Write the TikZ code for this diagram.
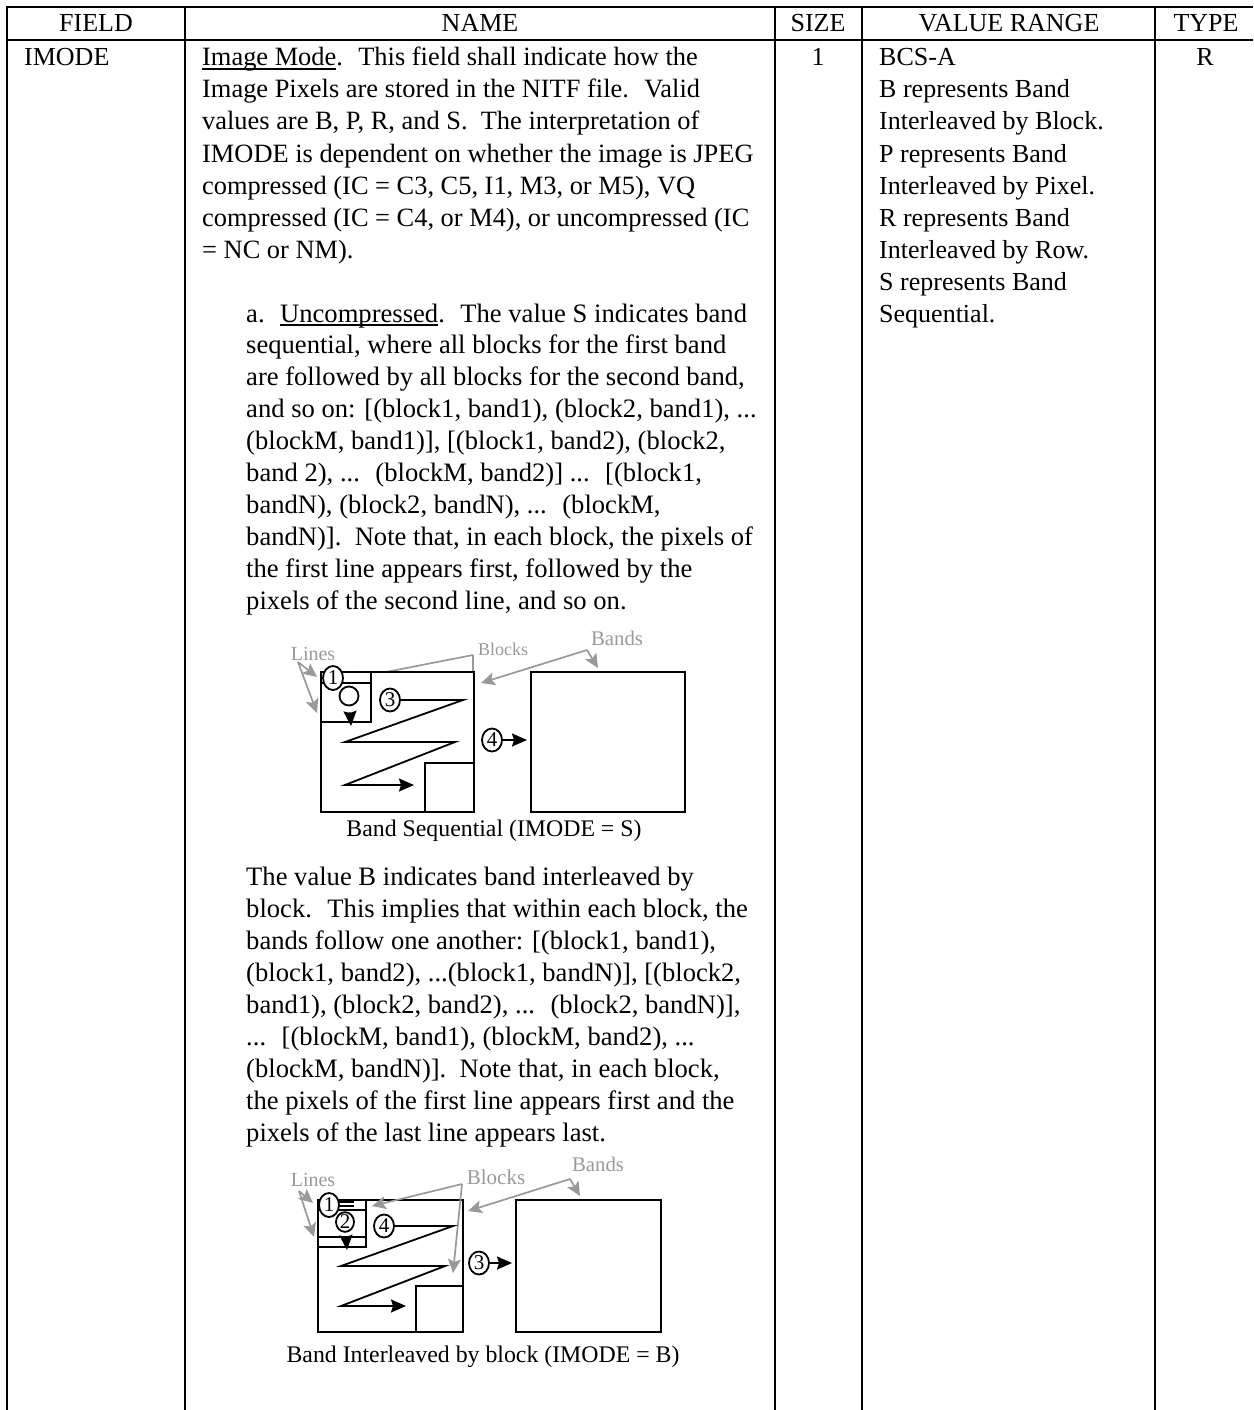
\documentclass[tikz,border=0pt]{standalone}
\usepackage{fontspec}
\setmainfont{Liberation Serif}
\usetikzlibrary{arrows.meta}
\usetikzlibrary{shapes.geometric}

\def\tdots{.{}.{}.}
\newcommand{\ulined}[1]{\setbox0\hbox{#1}\rlap{\rule[-4pt]{\wd0}{1.6pt}}#1}
\definecolor{tagcolor}{gray}{0.6}

\tikzset{
	rule/.style={line width=1.9pt},
	box/.style={draw, line width=1.8pt, fill=white},
	txt/.style={anchor=base west, inner sep=0pt, font=\fontsize{26}{30}\selectfont},
	body/.style={txt, font=\fontsize{26.6}{30}\selectfont},
	head/.style={anchor=base, inner sep=0pt, font=\fontsize{26}{30}\selectfont},
	caption/.style={anchor=base, inner sep=0pt, font=\fontsize{23.8}{24}\selectfont},
	tag/.style={anchor=base, inner sep=0pt, text=tagcolor},
	num/.style={ellipse, draw, fill=white, line width=1.8pt, inner sep=0pt, minimum width=20pt, minimum height=23pt, font=\fontsize{21}{20}\selectfont},
	flow/.style={line width=1.8pt, -{Stealth[length=15pt,width=13pt,inset=2pt]}},
	pointer/.style={draw=tagcolor, line width=1.7pt, -{Stealth[length=14pt,width=13pt,inset=3pt]}}
}

\begin{document}
\begin{tikzpicture}[x=1pt, y=-1pt]
  \useasboundingbox (0,0) rectangle (1253,1410);

  % table rules
  \draw [rule] (7,1410) -- (7,7) -- (1253,7);
  \draw [rule] (7,40) -- (1253,40);
  \foreach \x in {185,775,862,1155}
    \draw [rule] (\x,7) -- (\x,1410);

  % header row
  \node (field_head) [head] at (96,32) {FIELD};
  \node (name_head) [head] at (480,32) {NAME};
  \node (size_head) [head] at (818,32) {SIZE};
  \node (range_head) [head] at (1009,32) {VALUE RANGE};
  \node (type_head) [head] at (1206,32) {TYPE};

  % short cells
  \node (field_val) [txt] at (24,66) {IMODE};
  \node (size_val) [head] at (818,66) {1};
  \node (type_val) [head] at (1205,66) {R};
  \foreach \txt [count=\i] in {BCS-A, B represents Band, Interleaved by Block., P represents Band, Interleaved by Pixel., R represents Band, Interleaved by Row., S represents Band, Sequential.}
    \node (range_\i) [txt] at (879,{66+32*(\i-1)}) {\txt};

  % name column
  \foreach \txt [count=\i] in {
    {\ulined{Image Mode}.~ This field shall indicate how the},
    {Image Pixels are stored in the NITF file.~ Valid},
    {values are B, P, R, and S.~ The interpretation of},
    {IMODE is dependent on whether the image is JPEG},
    {compressed (IC = C3, C5, I1, M3, or M5), VQ},
    {compressed (IC = C4, or M4), or uncompressed (IC},
    {= NC or NM).}}
    \node (intro_\i) [body, font=\fontsize{26.4}{30}\selectfont] at (202,{66+32*(\i-1)}) {\txt};
  \foreach \txt [count=\i] in {
    {a.~ \ulined{Uncompressed}.~ The value S indicates band},
    {sequential, where all blocks for the first band},
    {are followed by all blocks for the second band,},
    {and so on: [(block1, band1), (block2, band1), \tdots},
    {(blockM, band1)], [(block1, band2), (block2,},
    {band 2), \tdots~ (blockM, band2)] \tdots~ [(block1,},
    {bandN), (block2, bandN), \tdots~ (blockM,},
    {bandN)].~ Note that, in each block, the pixels of},
    {the first line appears first, followed by the},
    {pixels of the second line, and so on.}}
    \node (seq_\i) [body] at (246,{322+31.9*(\i-1)}) {\txt};
  \foreach \txt [count=\i] in {
    {The value B indicates band interleaved by},
    {block.~ This implies that within each block, the},
    {bands follow one another: [(block1, band1),},
    {(block1, band2), \tdots(block1, bandN)], [(block2,},
    {band1), (block2, band2), \tdots~ (block2, bandN)],},
    {\tdots~ [(blockM, band1), (blockM, band2), \tdots},
    {(blockM, bandN)].~ Note that, in each block,},
    {the pixels of the first line appears first and the},
    {pixels of the last line appears last.}}
    \node (ilv_\i) [body] at (246,{885+32*(\i-1)}) {\txt};

  % band sequential sketch
  \coordinate (lines_a) at (298,662);
  \coordinate (blocks_a) at (473,655);
  \coordinate (bands_a) at (587,650);
  \draw [pointer] (lines_a) -- (317,677);
  \draw [pointer] (lines_a) -- (317,713);
  \draw [pointer] (blocks_a) -- (345,680);
  \draw [pointer, -] (blocks_a) -- (473,680);
  \draw [pointer] (bands_a) -- (481,683);
  \draw [pointer] (bands_a) -- (598,668);
  \draw [box] (321,672) rectangle (474,812);
  \draw [box] (531,672) rectangle (685,812);
  \draw [box] (321,672) rectangle (371,722);
  \draw [box] (321,672) rectangle (371,683);
  \draw [box] (425,763) rectangle (474,812);
  \node (lines_tag_a) [tag, font=\fontsize{20}{20}\selectfont] at (313,660) {Lines};
  \node (blocks_tag_a) [tag, font=\fontsize{18}{20}\selectfont] at (503,655) {Blocks};
  \node (bands_tag_a) [tag, font=\fontsize{20.8}{20}\selectfont] at (617,645) {Bands};
  \node (one_a) [num, minimum height=24pt] at (333,678) {1};
  \node (two_a) [num, minimum width=19pt, minimum height=19pt] at (349,696) {};
  \node (three_a) [num] at (390,700) {3};
  \node (four_a) [num] at (492,740) {4};
  \coordinate (zig_a1) at (463,700);
  \coordinate (zig_a2) at (345,742);
  \coordinate (zig_a3) at (455,742);
  \coordinate (zig_a4) at (345,785);
  \coordinate (zig_a5) at (414,785);
  \coordinate (down_a) at (351,726);
  \coordinate (right_a) at (527,740);
  \draw [flow] (three_a) -- (zig_a1) -- (zig_a2) -- (zig_a3) -- (zig_a4) -- (zig_a5);
  \draw [flow, shorten <=6pt] (two_a) -- (down_a);
  \draw [flow] (four_a) -- (right_a);
  \node (cap_a) [caption] at (494,836) {Band Sequential (IMODE = S)};

  % band interleaved sketch
  \coordinate (lines_b) at (299,1191);
  \coordinate (blocks_b) at (462,1184);
  \coordinate (bands_b) at (570,1179);
  \draw [box] (318,1200) rectangle (463,1332);
  \draw [box] (516,1200) rectangle (661,1332);
  \draw [box] (318,1200) rectangle (366,1247);
  \draw [box] (318,1200) rectangle (366,1210);
  \draw [box] (318,1237) rectangle (366,1247);
  \draw [box] (416,1286) rectangle (463,1332);
  \draw [pointer] (lines_b) -- (313,1203);
  \draw [pointer] (lines_b) -- (314,1237);
  \draw [pointer] (blocks_b) -- (372,1206);
  \draw [pointer] (blocks_b) -- (453,1273);
  \draw [pointer] (bands_b) -- (468,1211);
  \draw [pointer] (bands_b) -- (580,1196);
  \node (lines_tag_b) [tag, font=\fontsize{20}{20}\selectfont] at (313,1186) {Lines};
  \node (blocks_tag_b) [tag, font=\fontsize{21}{20}\selectfont] at (496,1184) {Blocks};
  \node (bands_tag_b) [tag, font=\fontsize{20.8}{20}\selectfont] at (598,1171) {Bands};
  \draw [line width=1.2pt] (330,1202) -- (354,1202);
  \draw [line width=1.2pt] (330,1206) -- (354,1206);
  \node (one_b) [num, minimum height=24pt] at (329,1205) {1};
  \node (two_b) [num, minimum width=18pt, minimum height=18pt] at (345,1222) {2};
  \node (three_b) [num] at (479,1263) {3};
  \node (four_b) [num] at (384,1226) {4};
  \coordinate (zig_b1) at (453,1226);
  \coordinate (zig_b2) at (341,1266);
  \coordinate (zig_b3) at (445,1266);
  \coordinate (zig_b4) at (341,1306);
  \coordinate (zig_b5) at (406,1306);
  \coordinate (down_b) at (347,1250);
  \coordinate (right_b) at (512,1263);
  \draw [flow] (four_b) -- (zig_b1) -- (zig_b2) -- (zig_b3) -- (zig_b4) -- (zig_b5);
  \draw [flow, shorten <=6pt] (two_b) -- (down_b);
  \draw [flow] (three_b) -- (right_b);
  \node (cap_b) [caption] at (483,1362) {Band Interleaved by block (IMODE = B)};
\end{tikzpicture}
\end{document}
